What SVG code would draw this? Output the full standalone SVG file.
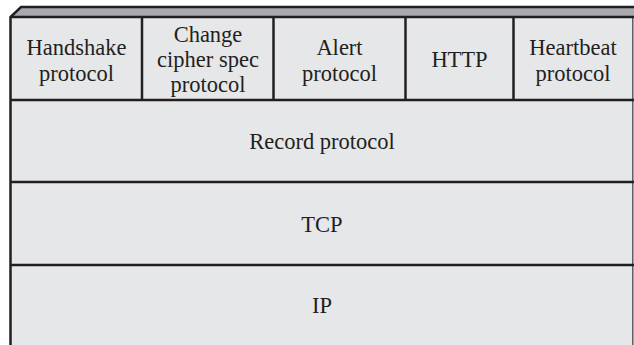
<svg xmlns="http://www.w3.org/2000/svg" width="634" height="345" viewBox="0 0 634 345">
<style>
.box{fill:#e6e7e9;stroke:none}
.ln{stroke:#231f20;stroke-width:2.5;fill:none}
.t{font-family:"Liberation Serif","Times New Roman",serif;font-size:22.5px;fill:#231f20;text-anchor:middle}
</style>
<rect width="634" height="345" fill="#ffffff"/>
<g id="frame">
<polygon points="10.5,17 21,7 634,7 634,17" fill="#a7a9ac"/>
<rect class="box" x="11" y="17" width="622" height="328"/>
<path class="ln" d="M10.5,345 V17 L21,7 H634"/>
<line x1="632.8" y1="17" x2="632.8" y2="345" stroke="#58595b" stroke-width="1.5"/>
</g>
<g id="connectors">
<line class="ln" x1="10" y1="17" x2="634" y2="17"/>
<line class="ln" x1="10" y1="100" x2="634" y2="100"/>
<line class="ln" x1="10" y1="182" x2="634" y2="182"/>
<line class="ln" x1="10" y1="265" x2="634" y2="265"/>
<line class="ln" x1="142" y1="17" x2="142" y2="100"/>
<line class="ln" x1="273.5" y1="17" x2="273.5" y2="100"/>
<line class="ln" x1="405.5" y1="17" x2="405.5" y2="100"/>
<line class="ln" x1="513.5" y1="17" x2="513.5" y2="100"/>
</g>
<g id="handshake"><text class="t" x="76.5" y="55">Handshake</text><text class="t" x="76.5" y="81">protocol</text></g>
<g id="ccs"><text class="t" x="208" y="42">Change</text><text class="t" x="208" y="67">cipher spec</text><text class="t" x="208" y="92">protocol</text></g>
<g id="alert"><text class="t" x="339.5" y="55">Alert</text><text class="t" x="339.5" y="81">protocol</text></g>
<g id="http"><text class="t" x="459.5" y="67">HTTP</text></g>
<g id="heartbeat"><text class="t" x="573" y="55">Heartbeat</text><text class="t" x="573" y="81">protocol</text></g>
<g id="record"><text class="t" x="322" y="149">Record protocol</text></g>
<g id="tcp"><text class="t" x="322" y="232">TCP</text></g>
<g id="ip"><text class="t" x="322" y="313">IP</text></g>
</svg>
